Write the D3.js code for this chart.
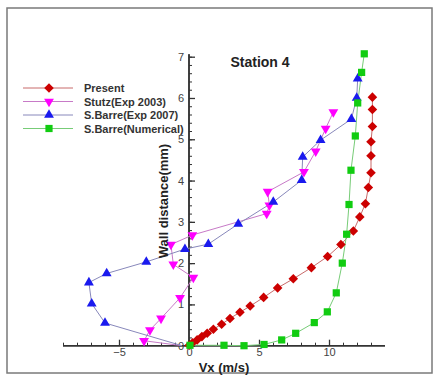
<!DOCTYPE html>
<html>
<head>
<meta charset="utf-8">
<script src="https://cdn.jsdelivr.net/npm/d3@7"></script>
<style>
  body { margin: 0; background: #fff; }
  text { font-family: "Liberation Sans", Arial, sans-serif; }
</style>
</head>
<body>
<div id="chart"></div>
<script>
// series values [Vx (m/s), wall distance (mm)]
const present = [
  [13.1, 6.02], [13.1, 5.72], [13.1, 5.31], [13.0, 4.94], [13.0, 4.6], [13.0, 4.19],
  [12.81, 3.83], [12.6, 3.44], [12.2, 3.12], [11.74, 2.78], [10.85, 2.45], [9.9, 2.16],
  [8.74, 1.89], [7.45, 1.62], [6.33, 1.4], [5.33, 1.17], [4.37, 0.96], [3.64, 0.81],
  [2.93, 0.66], [2.33, 0.52], [1.74, 0.4], [1.3, 0.3], [0.92, 0.22], [0.58, 0.14],
  [0.26, 0.07], [0.02, 0.01]
];
const stutz = [
  [10.31, 5.66], [9.76, 5.26], [9.05, 4.71], [8.21, 4.21], [5.62, 3.73], [5.74, 3.4],
  [5.55, 3.2], [0.24, 2.68], [-1.29, 2.45], [-1.12, 1.97], [0.31, 1.65], [-0.64, 1.16],
  [-2.0, 0.66], [-2.79, 0.38], [-3.21, 0.12], [-0.5, 0.0]
];
const barreExp = [
  [12.05, 6.47], [11.98, 6.0], [11.6, 5.49], [9.4, 4.98], [8.12, 4.57], [8.05, 4.01],
  [6.02, 3.48], [3.52, 2.95], [1.38, 2.46], [-0.29, 2.34], [-3.05, 2.03], [-5.88, 1.75],
  [-7.15, 1.53], [-6.95, 1.02], [-6.0, 0.55], [-0.5, 0.0]
];
const barreNum = [
  [12.52, 7.07], [12.33, 6.62], [12.05, 5.88], [11.88, 5.08], [11.57, 4.25], [11.43, 3.42],
  [11.26, 2.7], [10.95, 2.0], [10.52, 1.28], [9.88, 0.82], [8.95, 0.56], [7.62, 0.3],
  [6.62, 0.14], [5.36, 0.03], [3.93, 0.0], [2.5, 0.01], [0.07, 0.01]
];

const seriesNames = ["Present", "Stutz(Exp 2003)", "S.Barre(Exp 2007)", "S.Barre(Numerical)"];
const xMajorTicks = [-5, 0, 5, 10];
const yMajorTicks = [0, 1, 2, 3, 4, 5, 6, 7];

const W = 433, H = 383;

const svg = d3.select("#chart").append("svg")
  .attr("width", W).attr("height", H);

// frame
svg.append("rect")
  .attr("x", 7).attr("y", 8).attr("width", 425).attr("height", 365)
  .attr("fill", "#fff").attr("stroke", "#7a7a7a").attr("stroke-width", 1.5);

const x = d3.scaleLinear().domain([-9, 14]).range([63, 385]);
const y = d3.scaleLinear().domain([0, 7]).range([345.7, 56.7]);

// the experiment curves run into the origin, where the last point has no symbol
const series = [
  { name: seriesNames[0], data: present, line: "#c86a6a", fill: "#cc0000", shape: "diamond", markEnd: true },
  { name: seriesNames[1], data: stutz, line: "#c77ac7", fill: "#ff00ff", shape: "down", markEnd: false },
  { name: seriesNames[2], data: barreExp, line: "#8888bb", fill: "#1a1aee", shape: "up", markEnd: false },
  { name: seriesNames[3], data: barreNum, line: "#77cc77", fill: "#11cc11", shape: "square", markEnd: true }
];

function symbolPath(shape) {
  if (shape === "diamond") return { d: d3.symbol(d3.symbolSquare, 46)(), rot: 45 };
  if (shape === "square") return { d: d3.symbol(d3.symbolSquare, 52)(), rot: 0 };
  return { d: d3.symbol(d3.symbolTriangle, 42)(), rot: shape === "down" ? 180 : 0 };
}

function placeMarkers(g, s, pts) {
  const sym = symbolPath(s.shape);
  g.selectAll("path.m")
    .data(pts)
    .join("path")
    .attr("class", "m")
    .attr("d", sym.d)
    .attr("fill", s.fill)
    .attr("transform", d => `translate(${d[0]},${d[1]}) rotate(${sym.rot})`);
}

// axes
const axisColor = "#333";
const xAxisY = y(0), yAxisX = x(0);

const gx = svg.append("g").attr("transform", `translate(0,${xAxisY})`);
gx.call(d3.axisBottom(x).tickValues(d3.range(-9, 14, 1)).tickSize(-3).tickFormat(""));
gx.selectAll(".tick line").attr("stroke", axisColor);
const gx2 = svg.append("g").attr("transform", `translate(0,${xAxisY})`);
gx2.call(d3.axisBottom(x).tickValues(xMajorTicks).tickSize(-6).tickPadding(4).tickFormat(d3.format("d")));
[gx, gx2].forEach(g => g.select(".domain").attr("stroke", axisColor).attr("stroke-width", 1.5)
  .attr("d", `M${x(-9)},0H${x(14)}`));
gx2.selectAll(".tick line").attr("stroke", axisColor).attr("stroke-width", 1.3);
gx2.selectAll(".tick text").attr("font-size", 11).attr("fill", "#444")
  .attr("font-family", "Liberation Sans, Arial, sans-serif").attr("dy", "0.6em");

const gy = svg.append("g").attr("transform", `translate(${yAxisX},0)`);
gy.call(d3.axisLeft(y).tickValues(d3.range(0, 7.01, 0.2)).tickSize(-3).tickFormat(""));
gy.selectAll(".tick line").attr("stroke", axisColor);
const gy2 = svg.append("g").attr("transform", `translate(${yAxisX},0)`);
gy2.call(d3.axisLeft(y).tickValues(yMajorTicks).tickSize(-6).tickPadding(5).tickFormat(d3.format("d")));
[gy, gy2].forEach(g => g.select(".domain").attr("stroke", axisColor).attr("stroke-width", 1.5)
  .attr("d", `M0,${y(0)}V${y(7.06)}`));
gy2.selectAll(".tick line").attr("stroke", axisColor).attr("stroke-width", 1.3);
gy2.selectAll(".tick text").attr("font-size", 11).attr("fill", "#444")
  .attr("font-family", "Liberation Sans, Arial, sans-serif");

// series
const line = d3.line().x(d => x(d[0])).y(d => y(d[1]));
series.forEach(s => {
  svg.append("path")
    .datum(s.data)
    .attr("d", line)
    .attr("fill", "none")
    .attr("stroke", s.line)
    .attr("stroke-width", 1);
});
series.forEach(s => {
  const g = svg.append("g");
  const pts = s.markEnd ? s.data : s.data.slice(0, -1);
  placeMarkers(g, s, pts.map(d => [x(d[0]), y(d[1])]));
});

// titles
svg.append("text")
  .attr("x", 260).attr("y", 67)
  .attr("text-anchor", "middle")
  .attr("font-size", 14).attr("font-weight", "bold").attr("fill", "#222")
  .text("Station 4");

svg.append("text")
  .attr("x", 224).attr("y", 372)
  .attr("text-anchor", "middle")
  .attr("font-size", 13).attr("font-weight", "bold").attr("fill", "#222")
  .text("Vx (m/s)");

svg.append("text")
  .attr("transform", "translate(168,201) rotate(-90)")
  .attr("text-anchor", "middle")
  .attr("font-size", 13).attr("font-weight", "bold").attr("fill", "#222")
  .text("Wall distance(mm)");

// legend
const legend = svg.append("g");
series.forEach((s, i) => {
  const ly = 88 + i * 13.5;
  legend.append("line")
    .attr("x1", 23).attr("x2", 73).attr("y1", ly).attr("y2", ly)
    .attr("stroke", s.line).attr("stroke-width", 1);
  const g = legend.append("g");
  placeMarkers(g, s, [[49, ly]]);
  legend.append("text")
    .attr("x", 84).attr("y", ly + 4)
    .attr("font-size", 11).attr("font-weight", "bold").attr("fill", "#333")
    .text(s.name);
});
</script>
</body>
</html>
